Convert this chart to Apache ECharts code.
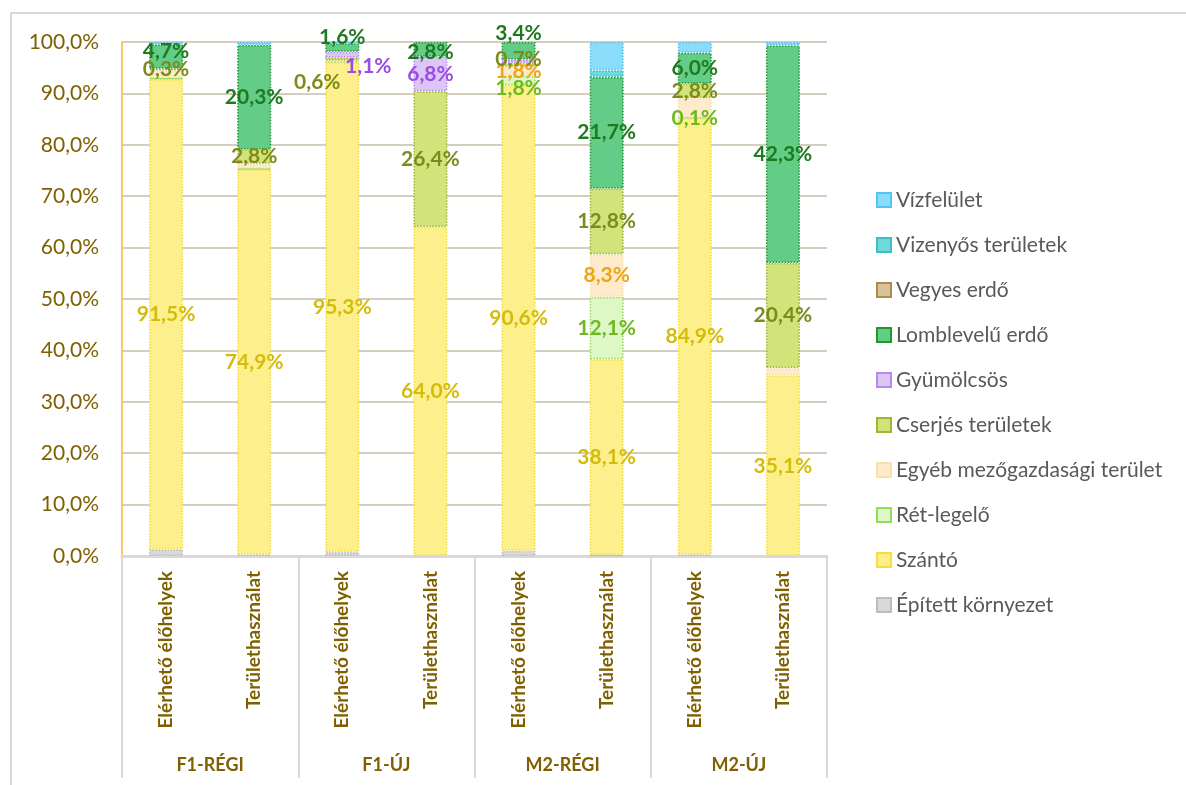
<!DOCTYPE html>
<html>
<head>
<meta charset="utf-8">
<title>Területhasználat és elérhető élőhelyek</title>
<script src="https://cdn.jsdelivr.net/npm/echarts@6/dist/echarts.min.js"></script>
<style>
  html, body { margin: 0; padding: 0; background: #ffffff; }
  #chart { width: 1186px; height: 785px; }
</style>
</head>
<body>
<div id="chart"></div>
<script>
// Bars and their groups
const categories = [
  'Elérhető élőhelyek', 'Területhasználat',
  'Elérhető élőhelyek', 'Területhasználat',
  'Elérhető élőhelyek', 'Területhasználat',
  'Elérhető élőhelyek', 'Területhasználat'
];
const groups = ['F1-RÉGI', 'F1-ÚJ', 'M2-RÉGI', 'M2-ÚJ'];
const yTicks = [0, 10, 20, 30, 40, 50, 60, 70, 80, 90, 100];

// Shares (%) of each land-cover class, bottom of the stack first
const epitett   = [1.3, 0.3, 0.8, 0.0, 1.0, 0.2, 0.3, 0.0];
const szanto    = [91.5, 74.9, 95.3, 64.0, 90.6, 38.1, 84.9, 35.1];
const retLegelo = [0.2, 0.2, 0.1, 0.0, 1.8, 12.1, 0.1, 0.0];
const egyebMg   = [1.5, 0.9, 0.2, 0.0, 1.8, 8.3, 3.8, 1.5];
const cserjes   = [0.3, 2.8, 0.6, 26.4, 0.7, 12.8, 2.8, 20.4];
const gyumolcs  = [0.0, 0.0, 1.1, 6.8, 0.7, 0.0, 0.0, 0.0];
const lomb      = [4.7, 20.3, 1.6, 2.8, 3.4, 21.7, 6.0, 42.3];
const vegyes    = [0.0, 0.0, 0.0, 0.0, 0.0, 0.0, 0.0, 0.0];
const vizenyos  = [0.0, 0.0, 0.0, 0.0, 0.0, 1.3, 0.0, 0.0];
const vizfelulet= [0.5, 0.6, 0.3, 0.0, 0.0, 5.5, 2.1, 0.7];

// Which bars carry a value label, per class
const labelled = {
  'Szántó': [0, 1, 2, 3, 4, 5, 6, 7],
  'Lomblevelű erdő': [0, 1, 2, 3, 4, 5, 6, 7],
  'Cserjés területek': [0, 1, 2, 3, 4, 5, 6, 7],
  'Gyümölcsös': [2, 3],
  'Egyéb mezőgazdasági terület': [4, 5],
  'Rét-legelő': [4, 5, 6]
};

// Hand-placed labels that would otherwise overlap
const nudge = {
  'Lomblevelű erdő:0': [0, -5],
  'Lomblevelű erdő:2': [0, -10],
  'Lomblevelű erdő:3': [0, 3],
  'Lomblevelű erdő:4': [0, -18],
  'Gyümölcsös:2': [26, 12],
  'Cserjés területek:2': [-25, 23],
  'Cserjés területek:4': [0, -6],
  'Rét-legelő:4': [0, 8]
};

const classes = [
  { name: 'Épített környezet', data: epitett, fill: '#D9D9D9', border: '#BDBDBD', text: '#7F7F7F' },
  { name: 'Szántó', data: szanto, fill: '#FDEF8C', border: '#F7DC3A', text: '#D4BC0C' },
  { name: 'Rét-legelő', data: retLegelo, fill: '#DDF7C6', border: '#93DD55', text: '#6DBA1F' },
  { name: 'Egyéb mezőgazdasági terület', data: egyebMg, fill: '#FDEBCB', border: '#F9DEAE', text: '#EFA514' },
  { name: 'Cserjés területek', data: cserjes, fill: '#D3E37C', border: '#A2B52F', text: '#7D8B1C' },
  { name: 'Gyümölcsös', data: gyumolcs, fill: '#DCC6F6', border: '#B689EE', text: '#9A4DE3' },
  { name: 'Lomblevelű erdő', data: lomb, fill: '#63CC86', border: '#1F9A31', text: '#1F7A1F' },
  { name: 'Vegyes erdő', data: vegyes, fill: '#D8C39B', border: '#AE8A4E', text: '#8C6A2E' },
  { name: 'Vizenyős területek', data: vizenyos, fill: '#6FD8D8', border: '#3DBFC7', text: '#2A9DA5' },
  { name: 'Vízfelület', data: vizfelulet, fill: '#8ADCFB', border: '#52C5F4', text: '#2E9FD0' }
];

const pct = v => v.toFixed(1).replace('.', ',') + '%';
const FONT = 'Lato';
const AXIS_COLOR = '#7F6000';

const series = classes.map(c => ({
  name: c.name,
  type: 'bar',
  stack: 'total',
  barWidth: 34,
  xAxisIndex: 0,
  itemStyle: { color: c.fill, borderColor: c.border, borderWidth: 1.5, borderType: 'dotted' },
  emphasis: { disabled: true },
  data: c.data.map((v, i) => {
    const show = (labelled[c.name] || []).includes(i);
    const off = nudge[c.name + ':' + i] || [0, 0];
    return {
      value: v === 0 ? '-' : v,
      label: {
        show: show,
        position: 'inside',
        offset: off,
        formatter: p => pct(p.value),
        color: c.text,
        fontFamily: FONT,
        fontWeight: 'bold',
        fontSize: 21
      }
    };
  })
}));

const chart = echarts.init(document.getElementById('chart'), null, { renderer: 'canvas' });
chart.setOption({
  animation: false,
  backgroundColor: '#ffffff',
  textStyle: { fontFamily: FONT },
  graphic: [{
    type: 'rect',
    shape: { x: 11, y: 13, width: 1200, height: 800 },
    style: { fill: 'none', stroke: '#D9D9D9', lineWidth: 2 },
    z: -10
  }],
  grid: { left: 122, right: 359, top: 42, bottom: 229, containLabel: false },
  legend: {
    orient: 'vertical',
    left: 871,
    top: 183,
    itemWidth: 14,
    itemHeight: 14,
    itemGap: 21,
    icon: 'rect',
    data: classes.map(c => c.name).reverse(),
    textStyle: { color: '#595959', fontFamily: FONT, fontSize: 21, lineHeight: 24 },
    selectedMode: false
  },
  xAxis: [
    {
      type: 'category',
      data: categories,
      position: 'bottom',
      axisLine: { show: true, lineStyle: { color: '#D9D9D9', width: 3 } },
      axisTick: { show: false },
      axisLabel: {
        interval: 0,
        rotate: 90,
        margin: 15,
        color: AXIS_COLOR,
        fontFamily: FONT,
        fontWeight: 'bold',
        fontSize: 19
      }
    },
    {
      type: 'category',
      data: groups,
      position: 'bottom',
      axisLine: { show: false },
      axisTick: { show: true, length: 222, lineStyle: { color: '#D9D9D9', width: 2 } },
      axisLabel: {
        interval: 0,
        margin: 200,
        color: AXIS_COLOR,
        fontFamily: FONT,
        fontWeight: 'bold',
        fontSize: 18
      },
      splitLine: { show: false }
    }
  ],
  yAxis: {
    type: 'value',
    min: yTicks[0],
    max: yTicks[yTicks.length - 1],
    interval: yTicks[1] - yTicks[0],
    axisLine: { show: true, lineStyle: { color: '#F8CB6A', width: 2 } },
    axisTick: { show: false },
    splitLine: { show: true, lineStyle: { color: '#D5CEC0', width: 2 } },
    axisLabel: {
      margin: 23,
      color: AXIS_COLOR,
      fontFamily: FONT,
      fontSize: 21,
      formatter: v => pct(v)
    }
  },
  series: series
});
</script>
</body>
</html>
